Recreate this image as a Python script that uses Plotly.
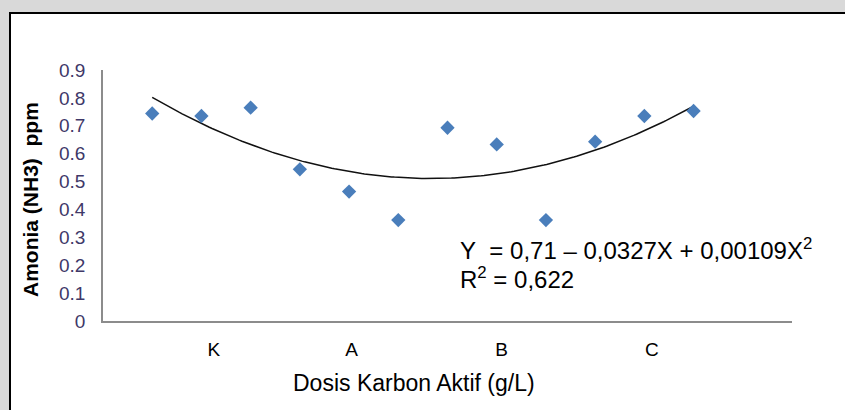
import numpy as np
import plotly.graph_objects as go

# ---- data ----
x_index = [1, 2, 3, 4, 5, 6, 7, 8, 9, 10, 11, 12]
amonia = [0.744, 0.735, 0.765, 0.544, 0.464, 0.362, 0.693, 0.633, 0.362, 0.643, 0.735, 0.753]
cat_labels = ["K", "A", "B", "C"]
cat_pos = [2.25, 5.05, 8.1, 11.15]
y_tickvals = [0, 0.1, 0.2, 0.3, 0.4, 0.5, 0.6, 0.7, 0.8, 0.9]
y_ticktext = ["0", "0.1", "0.2", "0.3", "0.4", "0.5", "0.6", "0.7", "0.8", "0.9"]
eq_line1 = "Y\u00a0\u00a0= 0,71 \u2013 0,0327X + 0,00109X<sup>2</sup>"
eq_line2 = "R<sup>2</sup> = 0,622"
x_title = "Dosis Karbon Aktif (g/L)"
y_title = "Amonia (NH3)\u00a0 ppm"

# polynomial (order 2) trendline from the data
coef = np.polyfit(x_index, amonia, 2)
xs = np.linspace(min(x_index), max(x_index), 200)
ys = np.polyval(coef, xs)

W, H = 845, 410
ML, MR, MT, MB = 103, 53, 70, 89
PW, PH = W - ML - MR, H - MT - MB

def px(xp):
    return (xp - ML) / PW

def py(yp):
    return (H - MB - yp) / PH

FONT = "Liberation Sans, Arial, sans-serif"

fig = go.Figure()
fig.add_trace(go.Scatter(
    x=xs, y=ys, mode="lines",
    line=dict(color="#111111", width=1.5),
    hoverinfo="skip", showlegend=False,
))
fig.add_trace(go.Scatter(
    x=x_index, y=amonia, mode="markers",
    marker=dict(symbol="diamond", size=11, color="#4a7ebb"),
    showlegend=False,
))

fig.update_layout(
    width=W, height=H,
    margin=dict(l=ML, r=MR, t=MT, b=MB, pad=0),
    paper_bgcolor="#d9d9d9",
    plot_bgcolor="white",
    font=dict(family=FONT, color="black"),
    showlegend=False,
    shapes=[dict(
        type="rect", xref="paper", yref="paper", layer="below",
        x0=px(10), x1=px(860), y0=py(425), y1=py(13),
        fillcolor="white", line=dict(color="black", width=2),
    )],
    xaxis=dict(
        range=[0, 14], showgrid=False, zeroline=False,
        showline=True, linecolor="#8c8c8c", linewidth=1.5,
        tickvals=cat_pos, ticktext=cat_labels,
        ticks="outside", ticklen=10, tickcolor="rgba(0,0,0,0)",
        tickfont=dict(size=19, color="black", family=FONT),
    ),
    yaxis=dict(
        range=[0, 0.9], showgrid=False, zeroline=False,
        showline=True, linecolor="#8c8c8c", linewidth=1.5,
        tickvals=y_tickvals, ticktext=y_ticktext,
        ticks="outside", ticklen=12, tickcolor="rgba(0,0,0,0)",
        tickfont=dict(size=19, color="#403868", family=FONT),
    ),
    annotations=[
        dict(text=x_title, xref="paper", yref="paper", x=px(414), y=py(383),
             xanchor="center", yanchor="middle", showarrow=False,
             font=dict(size=23, color="black", family=FONT)),
        dict(text="<b>" + y_title + "</b>", xref="paper", yref="paper",
             x=px(30), y=py(200), textangle=-90,
             xanchor="center", yanchor="middle", showarrow=False,
             font=dict(size=21, color="black", family=FONT)),
        dict(text=eq_line1, xref="paper", yref="paper", x=px(458), y=py(249),
             xanchor="left", yanchor="middle", align="left", showarrow=False,
             font=dict(size=24, color="black", family=FONT)),
        dict(text=eq_line2, xref="paper", yref="paper", x=px(458), y=py(278),
             xanchor="left", yanchor="middle", align="left", showarrow=False,
             font=dict(size=24, color="black", family=FONT)),
    ],
)

fig.write_html(
    "out.html",
    config={"displayModeBar": False},
    post_script="document.body.style.margin='0';document.body.style.background='#d9d9d9';",
)
